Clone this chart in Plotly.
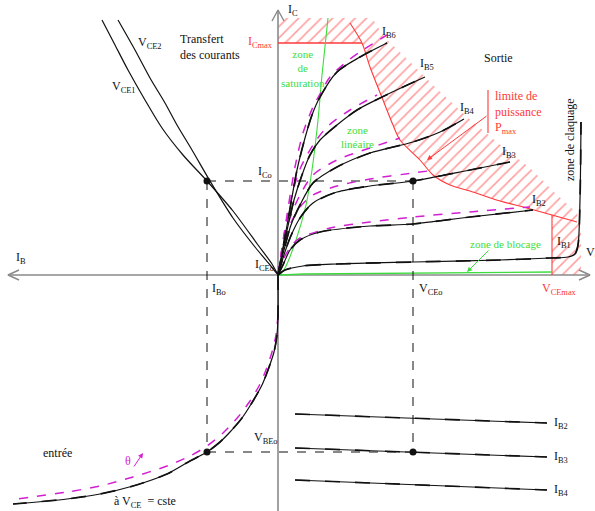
import plotly.graph_objects as go

# Diagram units: origin at the axes crossing, V_CE / I_C positive right / up,
# I_B to the left, V_BE downward.

# ---- output characteristics I_C = f(V_CE), constant I_B ----
vce_ib1 = [0, 7, 25, 59, 135, 222, 272, 290, 297, 300, 302, 303]
ic_ib1 = [0, 5, 9, 11, 13, 15, 17, 18, 21, 30, 75, 153]
vce_ib2 = [0, 5, 12, 22, 42, 92, 135, 192, 255]
ic_ib2 = [0, 10, 25, 35, 43, 49, 51, 58, 65]
vce_ib3 = [0, 5, 12, 22, 35, 59, 92, 135, 192, 232]
ic_ib3 = [0, 17, 37, 57, 72, 83, 89, 94, 105, 113]
vce_ib4 = [0, 6, 13, 22, 35, 59, 92, 135, 162, 186]
ic_ib4 = [0, 25, 50, 70, 92, 108, 122, 133, 143, 156]
vce_ib5 = [0, 8, 16, 24, 32, 42, 59, 79, 102, 125, 147]
ic_ib5 = [0, 40, 75, 100, 120, 135, 150, 165, 177, 188, 198]
vce_ib6 = [0, 10, 19, 27, 34, 42, 59, 82, 109]
ic_ib6 = [0, 55, 105, 137, 160, 178, 203, 218, 232]

# same family at higher temperature (theta increasing)
vce_ib2_hot = [0, 6, 14, 22, 52, 92, 135, 192, 252]
ic_ib2_hot = [0, 17, 30, 37, 47, 53, 58, 63, 68]
vce_ib3_hot = [0, 5, 12, 22, 35, 59, 92, 135, 150]
ic_ib3_hot = [0, 25, 50, 68, 80, 89, 96, 102, 104]
vce_ib4_hot = [0, 5, 12, 22, 35, 59, 92, 122]
ic_ib4_hot = [0, 30, 57, 80, 100, 115, 127, 137]
vce_ib5_hot = [0, 7, 14, 22, 35, 49, 72, 99]
ic_ib5_hot = [0, 45, 80, 106, 130, 148, 165, 180]
vce_ib6_hot = [0, 9, 17, 25, 35, 42, 52, 67, 82, 109]
ic_ib6_hot = [0, 60, 108, 142, 168, 181, 198, 212, 223, 240]

# ---- current transfer I_C = f(I_B) ----
ib_vce1 = [-176, -163, -150, -133, -116, -95, -71, -45, -20, -6, 0]
ic_vce1 = [255, 230, 205, 175, 147, 120, 94, 64, 30, 11, 0]
ib_vce2 = [-160, -143, -128, -113, -101, -86, -68, -45, -23, -8, 0]
ic_vce2 = [255, 225, 197, 172, 150, 125, 94, 57, 28, 10, 0]

# ---- input characteristic V_BE = f(I_B) at V_CE = cste ----
ib_in = [0, 0, -1, -4, -10, -16, -25, -36, -48, -58, -71, -88, -111, -145, -178, -211, -265]
vbe_in = [0, -40, -60, -77, -95, -110, -126, -143, -157, -167, -177, -186, -199, -211, -219, -224, -229]
ib_in_hot = [0, -2, -6, -12, -19, -28, -40, -54, -71, -88, -111, -145, -178, -211, -261]
vbe_in_hot = [-40, -60, -77, -95, -111, -126, -142, -157, -171, -181, -191, -202, -211, -217, -224]

# ---- reaction V_BE = f(V_CE) at constant I_B ----
react_labels = ["I<sub>B2</sub>", "I<sub>B3</sub>", "I<sub>B4</sub>"]
react_vce = [17, 269]
react_vbe = [[-139, -148], [-173, -182], [-205, -215]]

# ---- limits ----
icmax = 232
vcemax = 274
pmax_vce = [72, 84, 92, 105, 115, 122, 142, 155, 172, 192, 222, 245, 274, 299]
pmax_ic = [252, 232, 208, 175, 150, 135, 115, 100, 90, 84, 74, 68, 60, 53]
# outer edge of the forbidden (hatched) band
band_vce = [94, 107, 127, 155, 187, 220, 252, 277, 299, 303, 303]
band_ic = [257, 237, 218, 190, 160, 132, 107, 82, 62, 47, 0]
hatch_top = 257

# zone boundaries
sat_vce = [2, 7, 18, 28, 34, 40, 44, 50]
sat_ic = [0, 7, 35, 70, 105, 155, 200, 257]
cut_vce = [2, 25, 274]
cut_ic = [0, 1, 3]

# operating point
ib0, ic0, vce0, vbe0 = -71, 94, 135, -177

X_RANGE = [-278, 317]
Y_RANGE = [-236, 275]

BLACK = "#111111"
MAG = "#d21fd2"
GREEN = "#3ddc3d"
RED = "#ff3838"
GRAY = "#8a8a8a"
FONT = "Liberation Serif"

fig = go.Figure()


def line(x, y, color, width=1.4, dash="solid", spline=True):
    fig.add_trace(go.Scatter(
        x=x, y=y, mode="lines",
        line=dict(color=color, width=width, dash=dash,
                  shape="spline" if spline else "linear", smoothing=0.8),
        hoverinfo="skip"))


# hatched forbidden area (I_Cmax, P_max, V_CEmax)
poly_x = [0, band_vce[0]] + band_vce[1:] + [vcemax, vcemax] + pmax_vce[::-1][1:-1] + [0]
poly_y = [hatch_top, hatch_top] + band_ic[1:] + [0, pmax_ic[-2]] + pmax_ic[::-1][1:-1] + [icmax]
fig.add_trace(go.Scatter(
    x=poly_x, y=poly_y, mode="lines", fill="toself",
    line=dict(width=0, color=RED),
    fillcolor="rgba(255,255,255,0)",
    fillpattern=dict(shape="/", fgcolor="#ff4040", bgcolor="rgba(255,255,255,0)",
                     size=8, solidity=0.2),
    hoverinfo="skip"))

# axes
line([X_RANGE[0] + 8, 312], [0, 0], GRAY, 1.6, spline=False)
line([0, 0], [Y_RANGE[0], 265], GRAY, 1.6, spline=False)
line([-6, 0, 6], [254, 265, 254], GRAY, 1.4, spline=False)
line([301, 312, 301], [-5, 0, 5], GRAY, 1.4, spline=False)
line([-259, -270, -259], [5, 0, -5], GRAY, 1.4, spline=False)

# limit lines
line([0, 84], [icmax, icmax], RED, 1.4, spline=False)
line(pmax_vce, pmax_ic, RED, 1.1)
line([vcemax, vcemax], [0, pmax_ic[-2]], RED, 1.1, spline=False)
line([210, 210], [142, 185], RED, 1.1, spline=False)

# zone boundaries
line(sat_vce, sat_ic, GREEN, 1.1)
line(cut_vce, cut_ic, GREEN, 1.4)

# operating point construction
line([ib0, vce0], [ic0, ic0], BLACK, 1.0, "dash", False)
line([ib0, ib0], [ic0, vbe0], BLACK, 1.0, "dash", False)
line([vce0, vce0], [ic0, vbe0], BLACK, 1.0, "dash", False)
line([ib0, vce0], [vbe0, vbe0], BLACK, 1.0, "dash", False)

# hot curves
for x, y in [(vce_ib2_hot, ic_ib2_hot), (vce_ib3_hot, ic_ib3_hot), (vce_ib4_hot, ic_ib4_hot),
             (vce_ib5_hot, ic_ib5_hot), (vce_ib6_hot, ic_ib6_hot), (ib_in_hot, vbe_in_hot)]:
    line(x, y, MAG, 1.5, "dash")

# black characteristics
for x, y in [(vce_ib1, ic_ib1), (vce_ib2, ic_ib2), (vce_ib3, ic_ib3), (vce_ib4, ic_ib4),
             (vce_ib5, ic_ib5), (vce_ib6, ic_ib6), (ib_in, vbe_in)]:
    line(x, y, BLACK, 1.2)
    line(x, y, BLACK, 1.7, "longdash")
line(ib_vce1, ic_vce1, BLACK, 1.2)
line(ib_vce2, ic_vce2, BLACK, 1.2)
for vb in react_vbe:
    line(react_vce, vb, BLACK, 1.1, spline=False)
    line(react_vce, vb, BLACK, 1.6, "longdash", False)

# operating points
fig.add_trace(go.Scatter(x=[ib0, vce0, ib0, vce0], y=[ic0, ic0, vbe0, vbe0], mode="markers",
                         marker=dict(color=BLACK, size=7), hoverinfo="skip"))

anns = []


def text(x, y, s, color=BLACK, size=12, xanchor="center", angle=0, align="center"):
    anns.append(dict(x=x, y=y, text=s, showarrow=False, xanchor=xanchor, yanchor="middle",
                     textangle=angle, align=align,
                     font=dict(family=FONT, size=size, color=color)))


def arrow(x0, y0, x1, y1, color):
    anns.append(dict(x=x1, y=y1, ax=x0, ay=y0, axref="x", ayref="y", xref="x", yref="y",
                     text="", showarrow=True, arrowhead=2, arrowsize=1, arrowwidth=1,
                     arrowcolor=color))


text(8, 265, "I<sub>C</sub>", xanchor="left")
text(-264, 17, "I<sub>B</sub>", xanchor="left")
text(306, 22, "V<sub>CE</sub>", xanchor="left")
text(-3, 233, "I<sub>Cmax</sub>", RED, xanchor="right")
text(-100, 228, "Transfert<br>des courants", xanchor="left", align="left")
text(-142, 232, "V<sub>CE2</sub>", xanchor="left")
text(-168, 188, "V<sub>CE1</sub>", xanchor="left")
text(-4, 103, "I<sub>Co</sub>", xanchor="right")
text(-2, 10, "I<sub>CEo</sub>", xanchor="right")
text(-68, -14, "I<sub>Bo</sub>", xanchor="left")
text(139, -14, "V<sub>CEo</sub>", xanchor="left")
text(262, -14, "V<sub>CEmax</sub>", RED, xanchor="left")
text(-26, -163, "V<sub>BEo</sub>", xanchor="left")
text(220, 217, "Sortie")
text(292, 135, "zone de claquage", angle=-90)
text(215, 163, "limite de<br>puissance<br>P<sub>max</sub>", RED, xanchor="left", align="left")
text(25, 207, "zone<br>de<br>saturation", GREEN, size=11)
text(79, 138, "zone<br>linéaire", GREEN, size=11)
text(227, 31, "zone de blocage", GREEN, size=11)
ib_pos = [(277, 33), (252, 75), (222, 123), (180, 167), (140, 211), (102, 243)]
for i, (x, y) in enumerate(ib_pos):
    text(x, y, "I<sub>B%d</sub>" % (i + 1), xanchor="left")
for lab, vb in zip(react_labels, react_vbe):
    text(react_vce[1] + 5, vb[1], lab, xanchor="left")
text(-221, -178, "entrée")
text(-150, -186, "θ", MAG)
text(-133, -227, "à V<sub>CE</sub>  = cste")

arrow(212, 26, 189, 3, GREEN)
arrow(210, 160, 149, 115, RED)
arrow(-145, -193, -135, -178, MAG)

fig.update_layout(
    width=595, height=511, autosize=False,
    margin=dict(l=0, r=0, t=0, b=0, pad=0),
    paper_bgcolor="white", plot_bgcolor="white",
    showlegend=False,
    xaxis=dict(range=X_RANGE, visible=False, fixedrange=True),
    yaxis=dict(range=Y_RANGE, visible=False, fixedrange=True),
    annotations=anns,
)

fig.write_html("out.html")
